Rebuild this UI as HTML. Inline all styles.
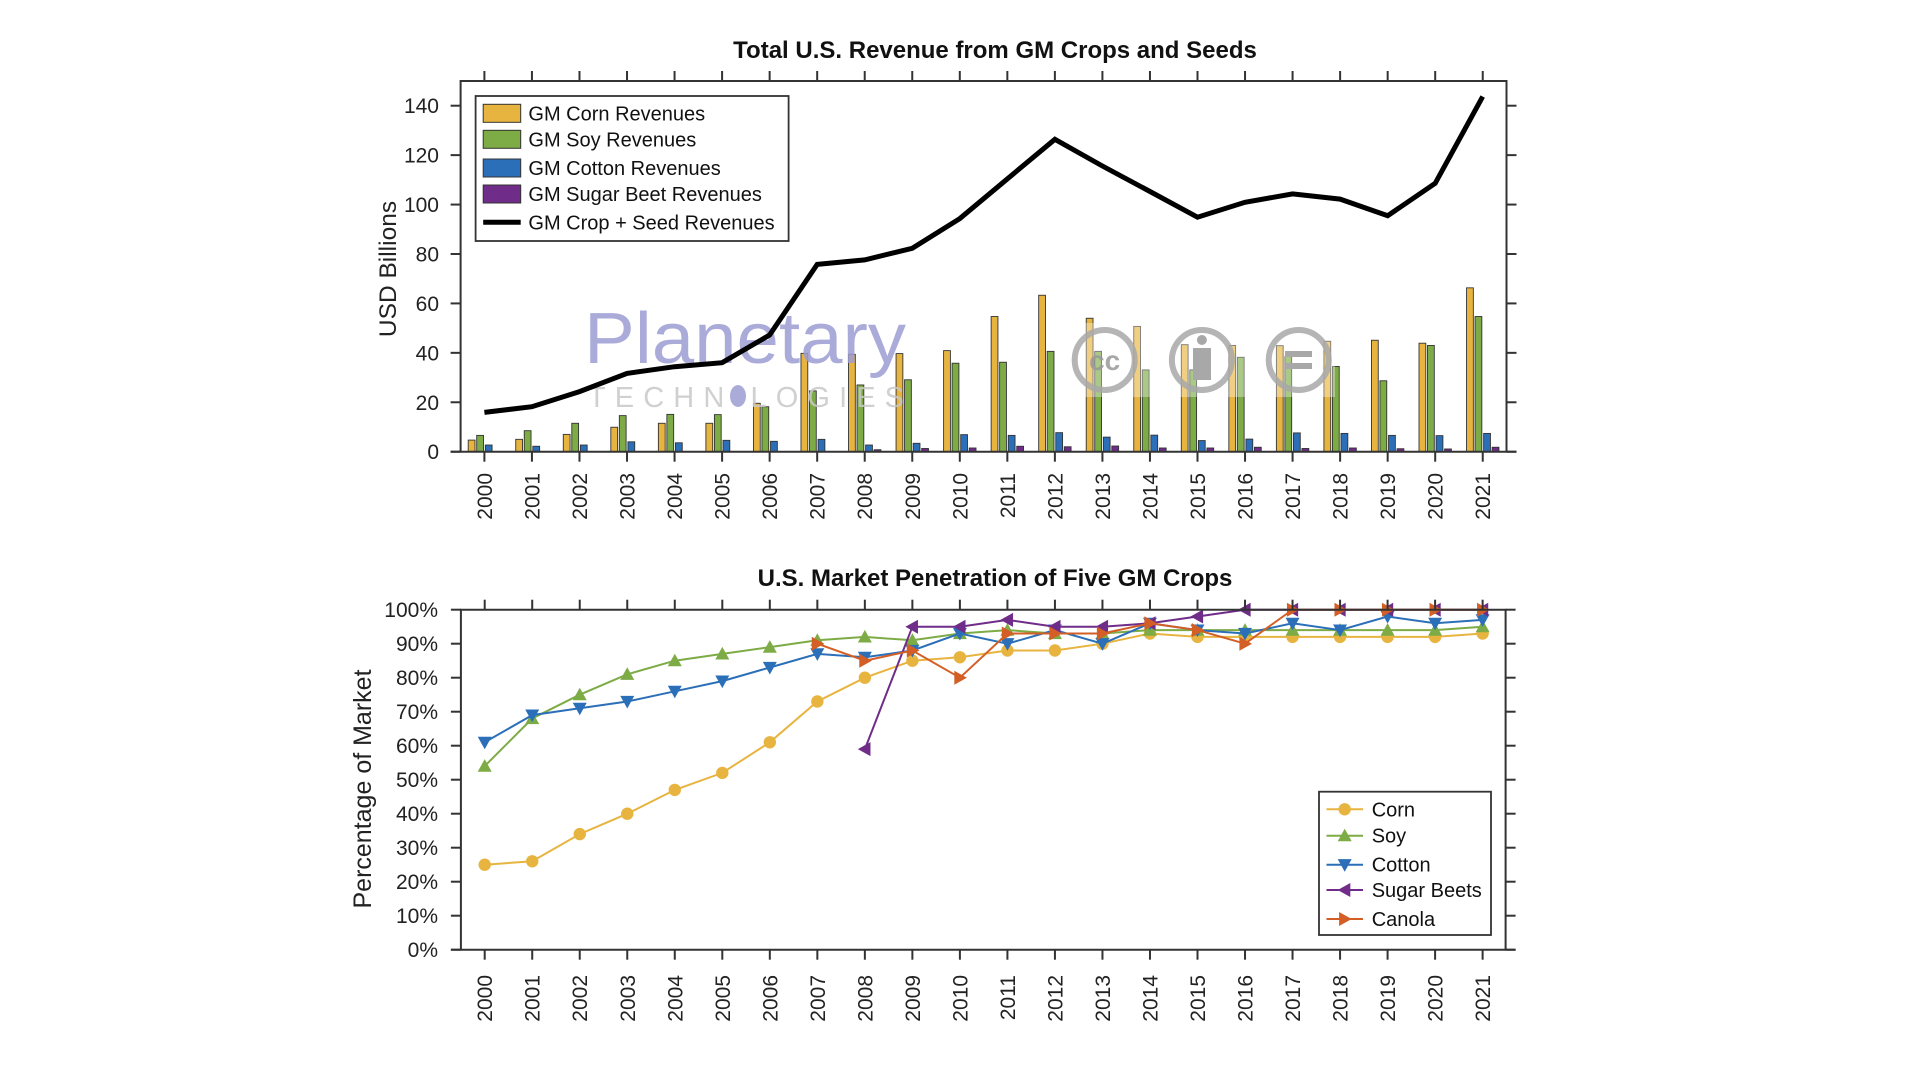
<!DOCTYPE html>
<html><head><meta charset="utf-8">
<style>
html,body{margin:0;padding:0;background:#fff;}
svg{display:block;font-family:"Liberation Sans",Arial,sans-serif;}
</style></head>
<body>
<svg id="chart" width="1920" height="1080" viewBox="0 0 1920 1080" xmlns="http://www.w3.org/2000/svg">
  <rect x="0" y="0" width="1920" height="1080" fill="#fff"/>
  <g id="topchart"></g>
  <g id="bottomchart"></g>
</svg>
<script>
const years = [2000,2001,2002,2003,2004,2005,2006,2007,2008,2009,2010,2011,2012,2013,2014,2015,2016,2017,2018,2019,2020,2021];
const cornRev = [4.7,5.0,7.0,9.9,11.5,11.5,19.6,39.8,39.4,39.7,40.9,54.7,63.3,54.0,50.7,43.3,43.0,42.9,44.7,45.1,43.9,66.3];
const soyRev = [6.6,8.5,11.5,14.6,15.1,15.0,18.2,24.6,27.0,29.1,35.8,36.2,40.6,40.6,33.1,33.1,38.2,38.5,34.5,28.7,43.0,54.7];
const cottonRev = [2.7,2.2,2.7,4.0,3.6,4.6,4.2,5.0,2.7,3.4,6.9,6.6,7.7,5.9,6.7,4.5,5.1,7.6,7.4,6.6,6.5,7.4];
const beetRev = [0,0,0,0,0,0,0,0,0.8,1.3,1.5,2.2,2.0,2.3,1.5,1.5,1.8,1.3,1.5,1.2,1.1,1.8];
const totalRev = [15.9,18.2,24.3,31.7,34.4,36.0,47.2,75.8,77.6,82.3,94.3,110.4,126.4,115.6,105.3,94.9,100.9,104.3,102.2,95.5,108.6,143.7];
const revTicks = [0,20,40,60,80,100,120,140];

const cornPct = [25,26,34,40,47,52,61,73,80,85,86,88,88,90,93,92,92,92,92,92,92,93];
const soyPct = [54,68,75,81,85,87,89,91,92,91,93,94,93,93,94,94,94,94,94,94,94,95];
const cottonPct = [61,69,71,73,76,79,83,87,86,88,93,90,94,90,96,94,93,96,94,98,96,97];
const beetPct = [null,null,null,null,null,null,null,null,59,95,95,97,95,95,96,98,100,100,100,100,100,100];
const canolaPct = [null,null,null,null,null,null,null,90,85,88,80,93,93,93,96,94,90,100,100,100,100,100];
const pctTicks = [0,10,20,30,40,50,60,70,80,90,100];

const NS = "http://www.w3.org/2000/svg";
function mk(parent, tag, attrs, text){
  const el = document.createElementNS(NS, tag);
  for (const k in attrs) el.setAttribute(k, attrs[k]);
  if (text !== undefined) el.textContent = text;
  parent.appendChild(el);
  return el;
}
const AX = "#333";
const C = {corn:"#E8B440", soy:"#7DAB45", cotton:"#2B6FB8", beet:"#6F2C88", canola:"#D35F27"};

/* ---------------- TOP CHART ---------------- */
const topG = document.getElementById('topchart');
const T = {L:460.6, R:1506.5, T:81, B:451.7, x0:484.4, dx:47.54, max:140};
const tx = i => T.x0 + i*T.dx;
const ty = v => T.B - v/T.max*(T.B - 105.7);

let el;
el = mk(topG,'text',{x:995,y:58,'text-anchor':'middle','font-size':24,'font-weight':'bold',fill:'#111'},'Total U.S. Revenue from GM Crops and Seeds');



const barSeries = [[cornRev,C.corn,-12.8,'corn'],[soyRev,C.soy,-4.3,'soy'],[cottonRev,C.cotton,4.3,'cotton'],[beetRev,C.beet,12.8,'beet']];
const bw = 6.8;
barSeries.forEach(([arr,col,off,nm])=>{
  arr.forEach((v,i)=>{
    if (!v) return;
    const b = mk(topG,'rect',{x:tx(i)+off-bw/2,y:ty(v),width:bw,height:T.B-ty(v),fill:col,stroke:'#333','stroke-width':0.9});
    
    
  });
});

// watermark
const wm = mk(topG,'g',{});


mk(wm,'rect',{x:1070,y:323,width:265,height:74,fill:'#fff',opacity:0.35});
mk(wm,'text',{x:584,y:363,'font-size':72,fill:'#9c9cd4','fill-opacity':0.85,textLength:322,lengthAdjust:'spacingAndGlyphs'},'Planetary');
mk(wm,'text',{x:588,y:407,'font-size':29,fill:'#c8c8c8','fill-opacity':0.85,textLength:316,lengthAdjust:'spacing'},'TECHN  LOGIES');
mk(wm,'ellipse',{cx:738,cy:396,rx:8,ry:11,fill:'#9c9cd4','fill-opacity':0.85});
[1104.7,1201.9,1298.7].forEach(cx=>{
  mk(wm,'circle',{cx:cx,cy:360,r:30,fill:'none',stroke:'#a8a8a8','stroke-width':6,'stroke-opacity':0.85});
});
mk(wm,'text',{x:1104.7,y:370,'text-anchor':'middle','font-size':28,'font-weight':'bold',fill:'#999','fill-opacity':0.85},'cc');
mk(wm,'circle',{cx:1201.9,cy:340,r:5,fill:'#a8a8a8'});
mk(wm,'rect',{x:1193,y:348,width:18,height:32,fill:'#a8a8a8'});
mk(wm,'rect',{x:1285,y:351,width:27,height:6,fill:'#a8a8a8'});
mk(wm,'rect',{x:1285,y:363,width:27,height:6,fill:'#a8a8a8'});

const pts = totalRev.map((v,i)=>tx(i).toFixed(1)+','+ty(v).toFixed(1)).join(' ');
el = mk(topG,'polyline',{points:pts,fill:'none',stroke:'#000','stroke-width':5,'stroke-linejoin':'miter'});



el = mk(topG,'path',{d:`M${T.L},${T.B} L${T.L},${T.T} L${T.R},${T.T} L${T.R},${T.B}`,fill:'none',stroke:AX,'stroke-width':2});


el = mk(topG,'line',{x1:T.L-10,y1:T.B,x2:T.R+10,y2:T.B,stroke:AX,'stroke-width':2});


revTicks.forEach(v=>{
  mk(topG,'line',{x1:T.L-10,y1:ty(v),x2:T.L,y2:ty(v),stroke:AX,'stroke-width':2});
  mk(topG,'line',{x1:T.R,y1:ty(v),x2:T.R+10,y2:ty(v),stroke:AX,'stroke-width':2});
  const t = mk(topG,'text',{x:439,y:ty(v)+7.5,'text-anchor':'end','font-size':21,fill:'#222'},String(v));
  
  
});
years.forEach((y,i)=>{
  mk(topG,'line',{x1:tx(i),y1:T.T-10,x2:tx(i),y2:T.T,stroke:AX,'stroke-width':2});
  mk(topG,'line',{x1:tx(i),y1:T.B,x2:tx(i),y2:T.B+10,stroke:AX,'stroke-width':2});
  const t = mk(topG,'text',{x:0,y:0,transform:`translate(${tx(i)+7.5},473) rotate(-90)`,'text-anchor':'end','font-size':21,fill:'#222'},String(y));
  
  
});
el = mk(topG,'text',{x:0,y:0,transform:'translate(396,269) rotate(-90)','text-anchor':'middle','font-size':24.5,fill:'#222'},'USD Billions');



const lg = mk(topG,'g',{});


mk(lg,'rect',{x:475.6,y:96,width:313,height:145,fill:'#fff',stroke:'#333','stroke-width':1.8});
const tl = [['GM Corn Revenues',C.corn,113.3],['GM Soy Revenues',C.soy,139.3],['GM Cotton Revenues',C.cotton,168],['GM Sugar Beet Revenues',C.beet,194]];
tl.forEach(([lab,col,cy])=>{
  const g = mk(lg,'g',{});
  
  
  mk(g,'rect',{x:483.2,y:cy-9,width:37.5,height:18,fill:col,stroke:'#333','stroke-width':1});
  mk(g,'text',{x:528.4,y:cy+7,'font-size':20,fill:'#111'},lab);
});
{
  const g = mk(lg,'g',{});
  
  
  mk(g,'line',{x1:483.2,y1:222.3,x2:520.7,y2:222.3,stroke:'#000','stroke-width':5});
  mk(g,'text',{x:528.4,y:229.3,'font-size':20,fill:'#111'},'GM Crop + Seed Revenues');
}

/* ---------------- BOTTOM CHART ---------------- */
const botG = document.getElementById('bottomchart');
const B = {L:460.9, R:1505.6, T:609.7, B:949.7, x0:484.7, dx:47.52};
const bx = i => B.x0 + i*B.dx;
const by = v => B.B - v/100*(B.B-B.T);

el = mk(botG,'text',{x:995,y:586,'text-anchor':'middle','font-size':24,'font-weight':'bold',fill:'#111'},'U.S. Market Penetration of Five GM Crops');



function marker(g,kind,x,y,col){
  const s=7;
  if(kind==='circle') return mk(g,'circle',{cx:x,cy:y,r:6.2,fill:col});
  let p;
  if(kind==='up') p=`${x},${y-s} ${x+s},${y+s*0.8} ${x-s},${y+s*0.8}`;
  if(kind==='down') p=`${x},${y+s} ${x+s},${y-s*0.8} ${x-s},${y-s*0.8}`;
  if(kind==='left') p=`${x-s},${y} ${x+s*0.8},${y-s} ${x+s*0.8},${y+s}`;
  if(kind==='right') p=`${x+s},${y} ${x-s*0.8},${y-s} ${x-s*0.8},${y+s}`;
  return mk(g,'polygon',{points:p,fill:col});
}
const lineSeries = [[cornPct,C.corn,'circle','corn'],[soyPct,C.soy,'up','soy'],[cottonPct,C.cotton,'down','cotton'],[beetPct,C.beet,'left','sugar-beets'],[canolaPct,C.canola,'right','canola']];
lineSeries.forEach(([arr,col,kind,nm])=>{
  const g = mk(botG,'g',{});
  
  
  const p = [];
  arr.forEach((v,i)=>{ if(v!==null) p.push(bx(i).toFixed(1)+','+by(v).toFixed(1)); });
  const l = mk(g,'polyline',{points:p.join(' '),fill:'none',stroke:col,'stroke-width':2});
  
  
  arr.forEach((v,i)=>{
    if(v===null) return;
    const m = marker(g,kind,bx(i),by(v),col);
    
    
  });
});

el = mk(botG,'path',{d:`M${B.L},${B.B} L${B.L},${B.T} L${B.R},${B.T} L${B.R},${B.B}`,fill:'none',stroke:AX,'stroke-width':2});


el = mk(botG,'line',{x1:B.L-10,y1:B.B,x2:B.R+10,y2:B.B,stroke:AX,'stroke-width':2});


pctTicks.forEach(v=>{
  mk(botG,'line',{x1:B.L-10,y1:by(v),x2:B.L,y2:by(v),stroke:AX,'stroke-width':2});
  mk(botG,'line',{x1:B.R,y1:by(v),x2:B.R+10,y2:by(v),stroke:AX,'stroke-width':2});
  const t = mk(botG,'text',{x:438,y:by(v)+7.5,'text-anchor':'end','font-size':21,fill:'#222'},v+'%');
  
  
});
years.forEach((y,i)=>{
  mk(botG,'line',{x1:bx(i),y1:B.T-10,x2:bx(i),y2:B.T,stroke:AX,'stroke-width':2});
  mk(botG,'line',{x1:bx(i),y1:B.B,x2:bx(i),y2:B.B+10,stroke:AX,'stroke-width':2});
  const t = mk(botG,'text',{x:0,y:0,transform:`translate(${bx(i)+7.5},975) rotate(-90)`,'text-anchor':'end','font-size':21,fill:'#222'},String(y));
  
  
});
el = mk(botG,'text',{x:0,y:0,transform:'translate(371,789) rotate(-90)','text-anchor':'middle','font-size':25,fill:'#222'},'Percentage of Market');



const lg2 = mk(botG,'g',{});


mk(lg2,'rect',{x:1319,y:791.7,width:172,height:143.3,fill:'#fff',stroke:'#333','stroke-width':1.8});
const bl = [['Corn',C.corn,'circle',809.3],['Soy',C.soy,'up',835.7],['Cotton',C.cotton,'down',864.7],['Sugar Beets',C.beet,'left',890],['Canola',C.canola,'right',919]];
bl.forEach(([lab,col,kind,cy])=>{
  const g = mk(lg2,'g',{});
  
  
  mk(g,'line',{x1:1326.5,y1:cy,x2:1363,y2:cy,stroke:col,'stroke-width':2});
  marker(g,kind,1344.7,cy,col);
  mk(g,'text',{x:1371.7,y:cy+7,'font-size':20,fill:'#111'},lab);
});
</script>
</body></html>
